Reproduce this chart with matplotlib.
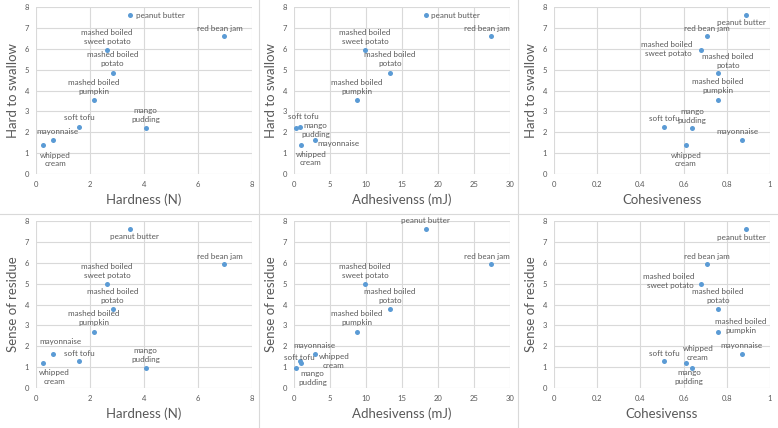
import matplotlib
matplotlib.use("Agg")
import matplotlib.pyplot as plt
from matplotlib.lines import Line2D

plt.rcParams['font.family'] = ['Lato', 'DejaVu Sans']

# ---- data ----
foods = ['peanut butter', 'red bean jam', 'mashed boiled\nsweet potato',
         'mashed boiled\npotato', 'mashed boiled\npumpkin', 'mango\npudding',
         'soft tofu', 'mayonnaise', 'whipped\ncream']
hardness = [3.48, 6.95, 2.63, 2.84, 2.13, 4.06, 1.59, 0.63, 0.26]
adhesiveness = [18.3, 27.4, 9.85, 13.3, 8.74, 0.23, 0.85, 2.9, 0.97]
cohesiveness = [0.89, 0.709, 0.68, 0.76, 0.76, 0.64, 0.51, 0.87, 0.61]
hard_to_swallow = [7.6, 6.6, 5.93, 4.82, 3.55, 2.2, 2.27, 1.65, 1.37]
residue = [7.6, 5.93, 5.0, 3.77, 2.7, 0.97, 1.27, 1.65, 1.2]

x_sets = [(hardness, 'Hardness (N)', 8, 2),
          (adhesiveness, 'Adhesivenss (mJ)', 30, 5),
          (cohesiveness, 'Cohesiveness', 1, 0.2)]
y_sets = [(hard_to_swallow, 'Hard to swallow'),
          (residue, 'Sense of residue')]
bottom_xlabels = ['Hardness (N)', 'Adhesivenss (mJ)', 'Cohesivenss']

# label offsets in pixels (dx, dy up), with horizontal alignment
C, L, R = 'center', 'left', 'right'
offsets = {
    (0, 0): [(6, 0, L), (-4, 8, C), (0, 13, C), (0, 14, C), (0, 13, C),
             (0, 13, C), (0, 9, C), (4, 8, C), (12, -14, C)],
    (0, 1): [(5, 0, L), (-4, 8, C), (0, 13, C), (0, 14, C), (0, 13, C),
             (20, -2, C), (3, 10, C), (2, -4, L), (10, -13, C)],
    (0, 2): [(-5, -7, C), (0, 8, C), (-9, 1, R), (10, 12, C), (0, 14, C),
             (0, 12, C), (0, 8, C), (-4, 8, C), (0, -14, C)],
    (1, 0): [(4, -7, C), (-4, 8, C), (0, 13, C), (0, 13, C), (0, 14, C),
             (0, 13, C), (0, 8, C), (7, 12, C), (11, -14, C)],
    (1, 1): [(0, 9, C), (-4, 8, C), (0, 13, C), (0, 13, C), (0, 14, C),
             (17, -10, C), (-1, 4, C), (0, 8, C), (33, 2, C)],
    (1, 2): [(-5, -8, C), (0, 8, C), (-7, 3, R), (0, 13, C), (23, 6, C),
             (-3, -9, C), (0, 8, C), (0, 8, C), (12, 10, C)],
}

W, H = 778, 428
fig = plt.figure(figsize=(W / 100, H / 100), dpi=100)
fig.patch.set_facecolor('white')

grey = '#595959'
gridc = '#D9D9D9'
dot = '#5B9BD5'

col_x0 = [0, 258, 518]
row_y0 = [0, 214]
for r, (yv, ylab) in enumerate(y_sets):
    for c, (xv, xlab, xmax, xstep) in enumerate(x_sets):
        left = col_x0[c] + 36
        top = row_y0[r] + 7
        ax = fig.add_axes([left / W, 1 - (top + 167) / H, 216 / W, 167 / H])
        ax.scatter(xv, yv, s=13, color=dot, zorder=3, linewidths=0)
        ax.set_xlim(0, xmax)
        ax.set_ylim(0, 8)
        xt = [i * xstep for i in range(int(round(xmax / xstep)) + 1)]
        ax.set_xticks(xt)
        ax.set_xticklabels([('%g' % t) for t in xt])
        ax.set_yticks(range(0, 9))
        ax.grid(True, color=gridc, linewidth=0.8)
        ax.set_axisbelow(True)
        for s in ax.spines.values():
            s.set_visible(False)
        ax.tick_params(length=0, labelsize=5.5, colors=grey, pad=5)
        xl = xlab if r == 0 else bottom_xlabels[c]
        ax.text(0.5, -26 / 167, xl, transform=ax.transAxes, ha='center',
                va='center', fontsize=9.5, color=grey)
        ax.text(-23 / 216, 0.5, ylab, transform=ax.transAxes, ha='center',
                va='center', rotation=90, fontsize=9.5, color=grey)
        for name, x, y, (dx, dy, ha) in zip(foods, xv, yv, offsets[(r, c)]):
            ax.annotate(name, (x, y), xytext=(dx * 0.72, dy * 0.72),
                        textcoords='offset points', ha=ha, va='center',
                        fontsize=5.8, color=grey, linespacing=1.3,
                        multialignment='center' if ha == C else ha)

# chart area borders
for x in [259, 518]:
    fig.add_artist(Line2D([x / W, x / W], [0, 1], color=gridc, linewidth=0.8))
fig.add_artist(Line2D([0, 1], [1 - 213.5 / H, 1 - 213.5 / H], color=gridc, linewidth=0.8))

fig.savefig('out.png', dpi=100)
